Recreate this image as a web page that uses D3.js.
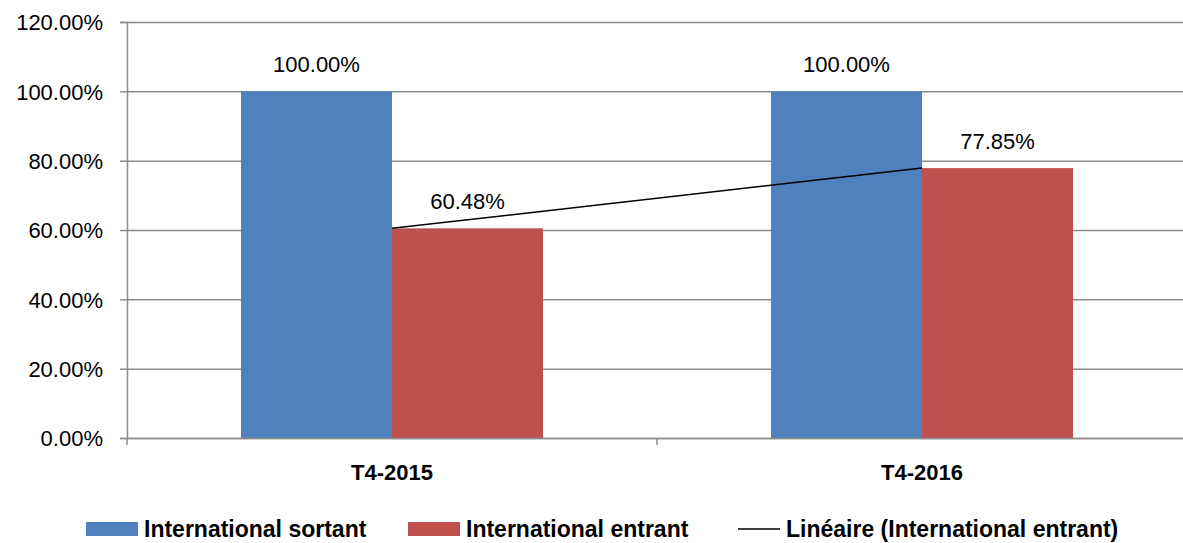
<!doctype html>
<html lang="fr">
<head>
<meta charset="utf-8">
<script src="https://cdn.jsdelivr.net/npm/d3@7"></script>
<style>
  body { margin: 0; background: #fff; }
  svg text { font-family: "Liberation Sans", Arial, sans-serif; fill: #000; }
  .grid line { stroke: #8c8c8c; stroke-width: 1.5px; }
  .grid path { display: none; }
</style>
</head>
<body>
<svg width="1183" height="543"></svg>
<script>
// data
var categories = ["T4-2015", "T4-2016"];
var series = ["International sortant", "International entrant"];
var sortant = [1.0, 1.0];
var entrant = [0.6048, 0.7785];
var yTicks = [0, 0.2, 0.4, 0.6, 0.8, 1.0, 1.2];
var trendLabel = "Linéaire (International entrant)";
var colors = ["#4F81BD", "#C0504D"];

var margin = {left: 127, top: 22, right: -4, bottom: 105};
var svg = d3.select("svg");
var width = 1183 - margin.left - margin.right;
var height = 543 - margin.top - margin.bottom;

var g = svg.append("g")
    .attr("transform", "translate(" + margin.left + "," + margin.top + ")");

var x0 = d3.scaleBand()
    .domain(categories)
    .range([0, width])
    .paddingInner(0)
    .paddingOuter(0);

var x1 = d3.scaleBand()
    .domain(series)
    .range([0, x0.bandwidth()])
    .paddingInner(0)
    .paddingOuter(0.755);

var y = d3.scaleLinear()
    .domain([0, 1.2])
    .range([height, 0]);

var fmt = function(v) { return (v * 100).toFixed(2) + "%"; };

// horizontal grid
g.append("g")
    .attr("class", "grid")
    .call(d3.axisLeft(y).tickValues(yTicks).tickSize(-width).tickFormat(""));

// y axis line + ticks
var yAx = g.append("g")
    .call(d3.axisLeft(y).tickValues(yTicks).tickSize(7).tickFormat(fmt).tickPadding(17));
yAx.select(".domain").attr("stroke", "#8c8c8c").attr("stroke-width", 1.5);
yAx.selectAll(".tick line").attr("stroke", "#8c8c8c").attr("stroke-width", 1.5);
yAx.selectAll("text").style("font-size", "22px").attr("dy", "0.35em");

// bars
var data = categories.map(function(c, i) {
    return [{s: series[0], v: sortant[i], c: c}, {s: series[1], v: entrant[i], c: c}];
});

var grp = g.append("g").selectAll("g")
    .data(data)
    .enter().append("g")
    .attr("transform", function(d, i) { return "translate(" + x0(categories[i]) + ",0)"; });

grp.selectAll("rect")
    .data(function(d) { return d; })
    .enter().append("rect")
    .attr("x", function(d) { return x1(d.s); })
    .attr("y", function(d) { return y(d.v); })
    .attr("width", x1.bandwidth())
    .attr("height", function(d) { return height - y(d.v); })
    .attr("fill", function(d, i) { return colors[i]; });

grp.selectAll("text.lbl")
    .data(function(d) { return d; })
    .enter().append("text")
    .attr("class", "lbl")
    .attr("x", function(d) { return x1(d.s) + x1.bandwidth() / 2; })
    .attr("y", function(d) { return y(d.v) - 19; })
    .attr("text-anchor", "middle")
    .style("font-size", "22px")
    .text(function(d) { return fmt(d.v); });

// x axis
var xAx = g.append("g")
    .attr("transform", "translate(0," + height + ")")
    .call(d3.axisBottom(x0).tickSize(0).tickPadding(26));
xAx.select(".domain").attr("stroke", "#8c8c8c").attr("stroke-width", 1.5);
xAx.selectAll("text").style("font-size", "22px").style("font-weight", "bold");

// category boundary ticks
g.append("g").selectAll("line")
    .data(categories.concat(["end"]))
    .enter().append("line")
    .attr("x1", function(d, i) { return i * x0.bandwidth(); })
    .attr("x2", function(d, i) { return i * x0.bandwidth(); })
    .attr("y1", height)
    .attr("y2", height + 7)
    .attr("stroke", "#8c8c8c")
    .attr("stroke-width", 1.5);

// linear trend (International entrant)
var line = d3.line()
    .x(function(d, i) { return x0(categories[i]) + x0.bandwidth() / 2; })
    .y(function(d) { return y(d); });

g.append("path")
    .datum(entrant)
    .attr("d", line)
    .attr("fill", "none")
    .attr("stroke", "#000")
    .attr("stroke-width", 1.5);

// legend
var legend = svg.append("g").attr("transform", "translate(0,529)");
var items = [
    {label: series[0], type: "rect", color: colors[0], x: 86},
    {label: series[1], type: "rect", color: colors[1], x: 408},
    {label: trendLabel, type: "line", color: "#000", x: 738}
];
items.forEach(function(it) {
    if (it.type === "rect") {
        legend.append("rect").attr("x", it.x).attr("y", -7).attr("width", 52).attr("height", 14).attr("fill", it.color);
    } else {
        legend.append("line").attr("x1", it.x).attr("x2", it.x + 42).attr("y1", 0).attr("y2", 0)
            .attr("stroke", it.color).attr("stroke-width", 1.5);
    }
    legend.append("text")
        .attr("x", it.x + (it.type === "rect" ? 58 : 48))
        .attr("y", 0)
        .attr("dy", "0.35em")
        .style("font-size", "23px")
        .style("font-weight", "bold")
        .text(it.label);
});
</script>
</body>
</html>
